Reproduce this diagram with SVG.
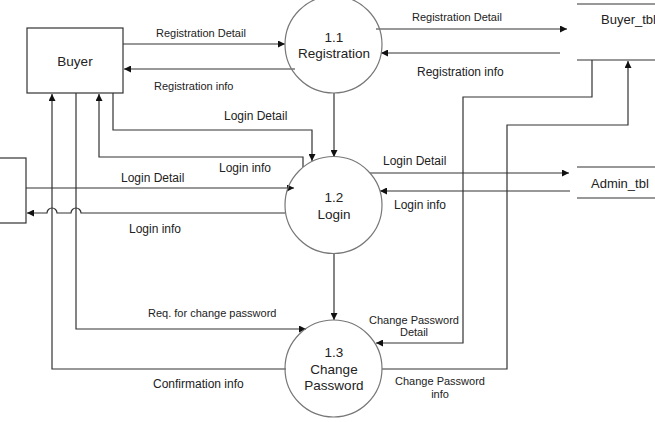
<svg xmlns="http://www.w3.org/2000/svg" width="655" height="422" viewBox="0 0 655 422">
<defs>
<marker id="arr" viewBox="0 0 10 10" refX="10" refY="5" markerWidth="7" markerHeight="7" markerUnits="userSpaceOnUse" orient="auto">
<path d="M0,0 L10,5 L0,10 z" fill="#111"/>
</marker>
</defs>
<style>
.t{font-family:"Liberation Sans",Arial,sans-serif;fill:#222}
.n{font-size:13.5px;text-anchor:middle}
.s11{font-size:11px}
.s12{font-size:12px}
.c{fill:none;stroke:#333;stroke-width:1.2}
.a{marker-end:url(#arr)}
.box{fill:#fff;stroke:#333;stroke-width:1.2}
.proc{fill:#fff;stroke:#777;stroke-width:1.2}
.ds{stroke:#333;stroke-width:1.2}
</style>
<rect width="655" height="422" fill="#fff"/>
<g id="connectors">
<path class="c a" d="M123,44 H285"/>
<path class="c a" d="M295,69 H124"/>
<path class="c a" d="M376,29 H567"/>
<path class="c a" d="M560,53 H381"/>
<path class="c a" d="M334,93 V157"/>
<path class="c a" d="M113,93 V130 H312 V161"/>
<path class="c a" d="M303,167 V157 H99 V94"/>
<path class="c a" d="M26,188 H294"/>
<path class="c a" d="M285,213 H81 a5,5 0 0 0 -10,0 H57 a5,5 0 0 0 -10,0 H27"/>
<path class="c a" d="M286,369 H52 V94"/>
<path class="c a" d="M76,93 V329 H306"/>
<path class="c a" d="M370,173 H569"/>
<path class="c a" d="M570,191 H380"/>
<path class="c a" d="M334,253 V320"/>
<path class="c a" d="M592,60 V97 H463 V343 H376"/>
<path class="c a" d="M382,369 H507 V125 H628 V61"/>
<text class="t s11" x="156" y="37">Registration Detail</text>
<text class="t s11" x="154" y="90">Registration info</text>
<text class="t s11" x="412" y="21">Registration Detail</text>
<text class="t s12" x="417" y="76">Registration info</text>
<text class="t s12" x="224" y="120">Login Detail</text>
<text class="t s12" x="219" y="172">Login info</text>
<text class="t s12" x="121" y="182">Login Detail</text>
<text class="t s12" x="129" y="233">Login info</text>
<text class="t s12" x="383" y="165">Login Detail</text>
<text class="t s12" x="394" y="209">Login info</text>
<text class="t s11" x="148" y="317">Req. for change password</text>
<text class="t s12" x="153" y="388">Confirmation info</text>
<text class="t s11" x="414" y="324" text-anchor="middle">Change Password</text>
<text class="t s11" x="414" y="336" text-anchor="middle">Detail</text>
<text class="t s11" x="440" y="385" text-anchor="middle">Change Password</text>
<text class="t s11" x="440" y="398" text-anchor="middle">info</text>
</g>
<g id="buyer">
<rect class="box" x="27" y="28" width="96" height="65"/>
<text class="t n" x="75" y="66">Buyer</text>
</g>
<g id="external-left">
<rect class="box" x="-70" y="158" width="96" height="65"/>
</g>
<g id="p11">
<circle class="proc" cx="333.5" cy="44.5" r="48.5" fill-opacity="0"/>
<text class="t n" x="334" y="42">1.1</text>
<text class="t n" x="334" y="58">Registration</text>
</g>
<g id="p12">
<circle class="proc" cx="333.5" cy="205" r="48.5" fill-opacity="0"/>
<text class="t n" x="334" y="202">1.2</text>
<text class="t n" x="334" y="219">Login</text>
</g>
<g id="p13">
<circle class="proc" cx="333.5" cy="368.5" r="48.5" fill-opacity="0"/>
<text class="t n" x="334" y="357">1.3</text>
<text class="t n" x="334" y="374">Change</text>
<text class="t n" x="334" y="390">Password</text>
</g>
<g id="buyer_tbl">
<line class="ds" x1="577" y1="4" x2="655" y2="4"/>
<line class="ds" x1="577" y1="60" x2="655" y2="60"/>
<text class="t" x="601" y="24" font-size="13px">Buyer_tbl</text>
</g>
<g id="admin_tbl">
<line class="ds" x1="577" y1="167" x2="655" y2="167"/>
<line class="ds" x1="577" y1="198" x2="655" y2="198"/>
<text class="t" x="591" y="188" font-size="13px">Admin_tbl</text>
</g>
</svg>
